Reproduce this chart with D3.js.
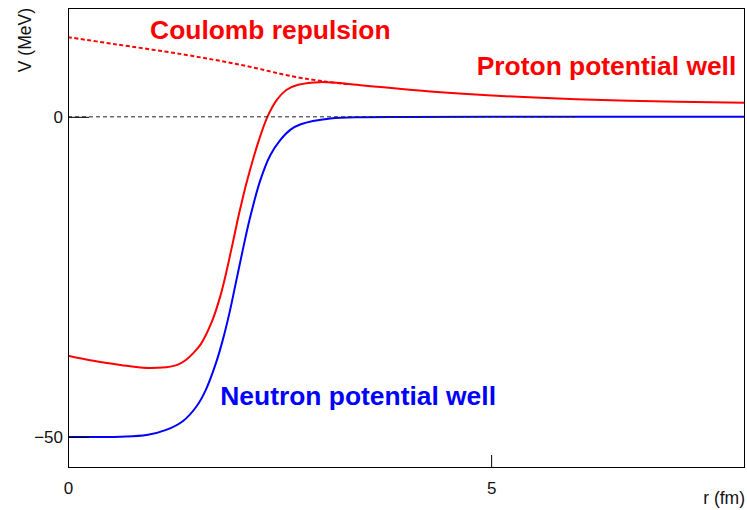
<!DOCTYPE html>
<html>
<head>
<meta charset="utf-8">
<script src="https://cdn.jsdelivr.net/npm/d3@7"></script>
<style>
  body { margin: 0; background: #fff; }
  svg text { font-family: "Liberation Sans", Arial, Helvetica, sans-serif; }
</style>
</head>
<body>
<div id="chart"></div>
<script>
// values (r in fm, V in MeV)
const protonR  = [0, 0.3, 0.62, 0.89, 1.16, 1.25, 1.33, 1.40, 1.48, 1.57, 1.70, 1.80, 1.87, 1.95, 2.01, 2.07, 2.12, 2.24, 2.36, 2.47, 2.58, 2.72, 2.98, 3.49, 4.28, 5.45, 6.63, 8.0];
const protonV  = [-37.3, -38.1, -38.75, -39.2, -39.1, -38.9, -38.5, -37.9, -36.9, -35.5, -32.0, -28.0, -24.3, -19.5, -15.8, -12.4, -9.8, -4.3, 0.1, 2.7, 4.2, 5.0, 5.42, 4.9, 3.95, 3.05, 2.5, 2.2];

const neutronR = [0, 0.62, 0.93, 1.16, 1.36, 1.52, 1.63, 1.75, 1.83, 1.91, 1.99, 2.07, 2.15, 2.27, 2.39, 2.51, 2.63, 2.75, 3.1, 3.5, 4.0, 5.0, 8.0];
const neutronV = [-50, -49.95, -49.7, -48.9, -47.5, -45.2, -42.6, -38.4, -34.8, -30.5, -25.5, -20.5, -15.8, -10.0, -6.0, -3.6, -2.0, -1.15, -0.25, -0.05, -0.02, 0, 0];

const coulombR = [0, 0.53, 1.36, 2.05, 2.66, 3.05, 3.3];
const coulombV = [12.45, 11.4, 9.75, 8.1, 6.3, 5.5, 5.1];

const zeroR = [0, 6.0];   // dashed V = 0 reference

const xTicks = [0, 5];
const yTicks = [0, -50];

const labels = [
    { text: 'Coulomb repulsion',      r: 0.97, v: 12.2,  color: '#ff0000' },
    { text: 'Proton potential well',  r: 4.83, v: 6.55,  color: '#ff0000' },
    { text: 'Neutron potential well', r: 1.80, v: -45.0, color: '#0000ff' }
];

var width = 747, height = 510;
var margin = { left: 68, right: 2, top: 8, bottom: 42 };

var svg = d3.select('#chart')
    .append('svg')
    .attr('width', width)
    .attr('height', height);

const x = d3.scaleLinear()
    .domain([0, 8])
    .range([margin.left, width - margin.right]);

const y = d3.scaleLinear()
    .domain([-54.85, 17.0])
    .range([height - margin.bottom, margin.top]);

svg.append('clipPath').attr('id', 'frame')
    .append('rect')
    .attr('x', x(0)).attr('y', y(17.0))
    .attr('width', x(8) - x(0)).attr('height', y(-54.85) - y(17.0));

const line = d3.line()
    .x(d => x(d[0]))
    .y(d => y(d[1]))
    .curve(d3.curveCatmullRom.alpha(0.5));

const zip = (a, b) => a.map((el, i) => [el, b[i]]);

const plot = svg.append('g').attr('clip-path', 'url(#frame)');

plot.append('path')
    .datum(zip(coulombR, coulombV))
    .attr('d', line)
    .attr('fill', 'none')
    .attr('stroke', '#ff0000')
    .attr('stroke-width', 2)
    .attr('stroke-dasharray', '4,2.5');

plot.append('path')
    .datum(zip(protonR, protonV))
    .attr('d', line)
    .attr('fill', 'none')
    .attr('stroke', '#ff0000')
    .attr('stroke-width', 2);

plot.append('path')
    .datum(zip(neutronR, neutronV))
    .attr('d', line)
    .attr('fill', 'none')
    .attr('stroke', '#0000ff')
    .attr('stroke-width', 2);

plot.append('line')
    .attr('x1', x(zeroR[0])).attr('x2', x(zeroR[1]))
    .attr('y1', y(0)).attr('y2', y(0))
    .attr('stroke', '#222')
    .attr('stroke-width', 1)
    .attr('stroke-dasharray', '4,3');

// axes, ROOT style: ticks inward, no domain line (frame drawn separately)
const xAxis = svg.append('g')
    .attr('transform', `translate(0,${y(-54.85)})`)
    .call(d3.axisBottom(x).tickValues(xTicks).tickFormat(d3.format('d')).tickSize(-13).tickPadding(10));

const yAxis = svg.append('g')
    .attr('transform', `translate(${x(0)},0)`)
    .call(d3.axisLeft(y).tickValues(yTicks).tickFormat(d => d < 0 ? '\u2212' + Math.abs(d) : d).tickSize(-21).tickPadding(5));

[xAxis, yAxis].forEach(g => {
    g.select('.domain').remove();
    g.selectAll('.tick line').attr('stroke', '#000');
    g.selectAll('.tick text')
        .attr('fill', '#111')
        .style('font-size', '17px');
});
xAxis.selectAll('.tick text').attr('dy', '0.95em');

svg.append('rect')
    .attr('x', x(0) + 0.5).attr('y', y(17.0) + 0.5)
    .attr('width', x(8) - x(0) - 1).attr('height', y(-54.85) - y(17.0) - 1)
    .attr('fill', 'none')
    .attr('stroke', '#000')
    .attr('stroke-width', 1);

svg.append('text')
    .attr('x', width - 2)
    .attr('y', 504)
    .attr('text-anchor', 'end')
    .attr('fill', '#111')
    .style('font-size', '17.5px')
    .text('r (fm)');

svg.append('text')
    .attr('transform', `translate(31,${margin.top}) rotate(-90)`)
    .attr('text-anchor', 'end')
    .attr('fill', '#111')
    .style('font-size', '17.5px')
    .text('V (MeV)');

svg.selectAll('.label')
    .data(labels)
    .enter()
    .append('text')
    .attr('class', 'label')
    .attr('x', d => x(d.r))
    .attr('y', d => y(d.v))
    .attr('fill', d => d.color)
    .style('font-size', '26.4px')
    .style('font-weight', 'bold')
    .text(d => d.text);
</script>
</body>
</html>
